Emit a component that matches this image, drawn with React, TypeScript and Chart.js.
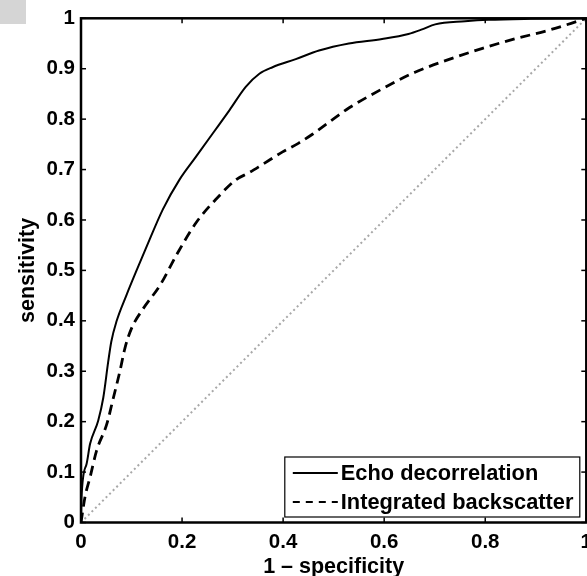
import React, { useEffect, useRef } from 'react';
import { Chart, registerables } from 'chart.js';

Chart.register(...registerables);

// ROC curve: Echo decorrelation (solid)
const echoFpr = [0, 0.001, 0.011, 0.018, 0.034, 0.044, 0.054, 0.06, 0.07, 0.09, 0.11, 0.129, 0.162, 0.195, 0.228, 0.261, 0.294, 0.326, 0.353, 0.379, 0.425, 0.471, 0.53, 0.596, 0.648, 0.675, 0.701, 0.76, 0.806, 0.89, 1];
const echoTpr = [0, 0.05, 0.116, 0.156, 0.202, 0.247, 0.32, 0.359, 0.398, 0.451, 0.5, 0.545, 0.621, 0.68, 0.726, 0.772, 0.818, 0.864, 0.89, 0.903, 0.919, 0.936, 0.95, 0.959, 0.969, 0.978, 0.988, 0.994, 0.997, 0.999, 1];

// ROC curve: Integrated backscatter (dashed)
const ibsFpr = [0, 0.008, 0.018, 0.031, 0.051, 0.064, 0.077, 0.087, 0.1, 0.123, 0.156, 0.192, 0.228, 0.267, 0.307, 0.333, 0.359, 0.399, 0.43, 0.458, 0.51, 0.53, 0.596, 0.661, 0.727, 0.793, 0.858, 0.924, 0.97, 1];
const ibsTpr = [0, 0.051, 0.09, 0.143, 0.195, 0.247, 0.3, 0.346, 0.385, 0.424, 0.47, 0.536, 0.595, 0.641, 0.68, 0.694, 0.71, 0.735, 0.752, 0.77, 0.808, 0.822, 0.86, 0.893, 0.918, 0.94, 0.959, 0.976, 0.99, 1];

// chance line
const chanceFpr = [0, 1];
const chanceTpr = [0, 1];

const seriesLabels = ['Echo decorrelation', 'Integrated backscatter', 'Chance'];
const xTickValues = [0, 0.2, 0.4, 0.6, 0.8, 1];
const xTickLabels = ['0', '0.2', '0.4', '0.6', '0.8', '1'];
const yTickValues = [0, 0.1, 0.2, 0.3, 0.4, 0.5, 0.6, 0.7, 0.8, 0.9, 1];
const yTickLabels = ['0', '0.1', '0.2', '0.3', '0.4', '0.5', '0.6', '0.7', '0.8', '0.9', '1'];
const xTitle = '1 \u2013 specificity';
const yTitle = 'sensitivity';

const FONT = '"Liberation Sans", Arial, Helvetica, sans-serif';

const toPoints = (xs: number[], ys: number[]) => xs.map((x, i) => ({ x, y: ys[i] }));

const labelFor = (values: number[], labels: string[], v: number) => {
  const i = values.findIndex((t) => Math.abs(t - v) < 1e-6);
  return i >= 0 ? labels[i] : '';
};

const framePlugin = {
  id: 'frameAndLegend',
  afterDatasetsDraw(chart: any) {
    const { ctx, chartArea: a, scales } = chart;
    ctx.save();
    ctx.strokeStyle = '#000';
    ctx.setLineDash([]);
    const line = (x1: number, y1: number, x2: number, y2: number) => {
      ctx.beginPath();
      ctx.moveTo(x1, y1);
      ctx.lineTo(x2, y2);
      ctx.stroke();
    };
    // inward ticks on all sides
    ctx.lineWidth = 1.5;
    const tl = 5;
    xTickValues.forEach((v) => {
      const px = scales.x.getPixelForValue(v);
      line(px, a.bottom, px, a.bottom - tl);
      line(px, a.top, px, a.top + tl);
    });
    yTickValues.forEach((v) => {
      const py = scales.y.getPixelForValue(v);
      line(a.left, py, a.left + tl, py);
      line(a.right, py, a.right - tl, py);
    });
    // box
    ctx.lineWidth = 2.5;
    ctx.strokeRect(a.left, a.top, a.right - a.left, a.bottom - a.top);

    // legend
    const bw = 295;
    const bh = 60;
    const bx = a.right - 6.5 - bw;
    const by = a.bottom - 5.5 - bh;
    ctx.fillStyle = '#fff';
    ctx.fillRect(bx, by, bw, bh);
    ctx.lineWidth = 1.2;
    ctx.strokeRect(bx, by, bw, bh);

    const ds = chart.data.datasets;
    const rows = [
      { y: by + 16, d: ds[0] },
      { y: by + 45, d: ds[1] },
    ];
    ctx.font = `bold 21.8px ${FONT}`;
    ctx.textBaseline = 'middle';
    ctx.textAlign = 'left';
    rows.forEach((r) => {
      ctx.strokeStyle = r.d.borderColor;
      ctx.lineWidth = 2;
      ctx.setLineDash(r.d.borderDash && r.d.borderDash.length ? [7, 6] : []);
      line(bx + 8, r.y, bx + 53, r.y);
      ctx.setLineDash([]);
      ctx.fillStyle = '#000';
      ctx.fillText(r.d.label, bx + 56, r.y + 1);
    });
    ctx.restore();
  },
};

export default function App() {
  const canvasRef = useRef<HTMLCanvasElement | null>(null);

  useEffect(() => {
    const canvas = canvasRef.current;
    if (!canvas) return;
    const chart = new Chart(canvas, {
      type: 'line',
      data: {
        datasets: [
          {
            label: seriesLabels[0],
            data: toPoints(echoFpr, echoTpr),
            borderColor: '#000',
            borderWidth: 2,
            borderDash: [],
            pointRadius: 0,
            cubicInterpolationMode: 'monotone',
            fill: false,
          },
          {
            label: seriesLabels[1],
            data: toPoints(ibsFpr, ibsTpr),
            borderColor: '#000',
            borderWidth: 2.8,
            borderDash: [10, 6],
            pointRadius: 0,
            cubicInterpolationMode: 'monotone',
            fill: false,
          },
          {
            label: seriesLabels[2],
            data: toPoints(chanceFpr, chanceTpr),
            borderColor: '#a8a8a8',
            borderWidth: 2,
            borderDash: [2, 3],
            pointRadius: 0,
            fill: false,
          },
        ],
      },
      options: {
        responsive: false,
        animation: false,
        events: [],
        layout: { padding: { top: 14, right: 11.5, left: 0, bottom: 0 } },
        plugins: {
          legend: { display: false },
          tooltip: { enabled: false },
        },
        scales: {
          x: {
            type: 'linear',
            min: 0,
            max: 1,
            afterBuildTicks: (s: any) => {
              s.ticks = xTickValues.map((v) => ({ value: v }));
            },
            afterFit: (s: any) => {
              s.height = 55.5;
            },
            grid: { display: false, drawTicks: false },
            border: { display: false },
            ticks: {
              padding: 8,
              maxRotation: 0,
              autoSkip: false,
              color: '#000',
              font: { family: FONT, size: 20.5, weight: 'bold' },
              callback: (v: any) => labelFor(xTickValues, xTickLabels, Number(v)),
            },
            title: {
              display: true,
              text: xTitle,
              color: '#000',
              font: { family: FONT, size: 21.5, weight: 'bold', lineHeight: 1 },
              padding: { top: 0, bottom: 0.5 },
            },
          },
          y: {
            type: 'linear',
            min: 0,
            max: 1,
            afterBuildTicks: (s: any) => {
              s.ticks = yTickValues.map((v) => ({ value: v }));
            },
            afterFit: (s: any) => {
              s.width = 81;
            },
            grid: { display: false, drawTicks: false },
            border: { display: false },
            ticks: {
              padding: 6,
              autoSkip: false,
              color: '#000',
              font: { family: FONT, size: 20.5, weight: 'bold' },
              callback: (v: any) => labelFor(yTickValues, yTickLabels, Number(v)),
            },
            title: {
              display: true,
              text: yTitle,
              color: '#000',
              font: { family: FONT, size: 21.5, weight: 'bold', lineHeight: 1 },
              padding: { top: 17, bottom: 0 },
            },
          },
        },
      },
      plugins: [framePlugin],
    } as any);
    return () => chart.destroy();
  }, []);

  return (
    <div
      style={{
        position: 'fixed',
        left: 0,
        top: 0,
        width: 587,
        height: 576,
        overflow: 'hidden',
        background: '#fff',
      }}
    >
      <canvas ref={canvasRef} width={600} height={578} style={{ display: 'block', width: 600, height: 578 }} />
      <div
        style={{
          position: 'absolute',
          left: 0,
          top: 0,
          width: 26,
          height: 24,
          background: '#d5d5d5',
        }}
      />
    </div>
  );
}
